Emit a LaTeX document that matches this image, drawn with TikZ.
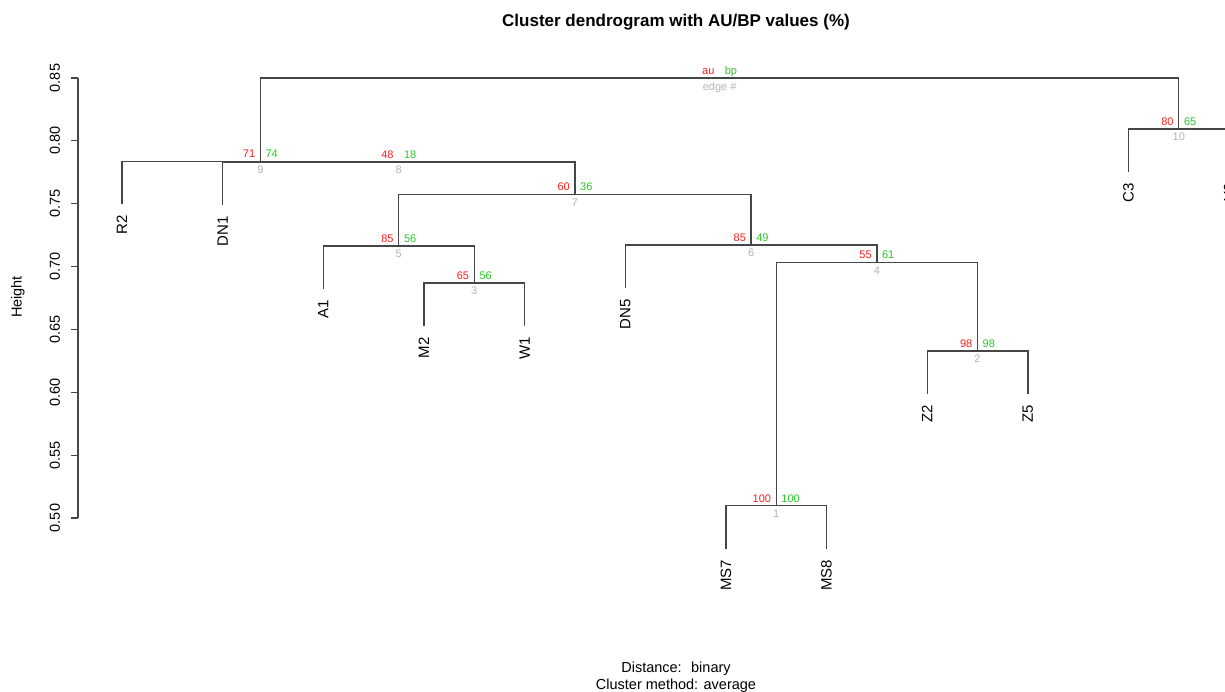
\documentclass[tikz,border=0pt]{standalone}
\usepackage{fontspec}
\setmainfont{Liberation Sans}
\usetikzlibrary{calc}
\definecolor{aured}{RGB}{255,30,30}
\definecolor{bpgreen}{RGB}{40,200,40}
\definecolor{edgegray}{RGB}{180,180,180}
\definecolor{treegray}{RGB}{70,70,70}

\begin{document}
\begin{tikzpicture}[x=1pt, y=-1pt,
    branch/.style={treegray, line width=1.3pt},
    leaflabel/.style={rotate=90, anchor=east, inner sep=0pt, font=\fontsize{15}{16}\selectfont},
    aulabel/.style={aured, anchor=base east, inner sep=0pt, font=\fontsize{11}{12}\selectfont},
    bplabel/.style={bpgreen, anchor=base west, inner sep=0pt, font=\fontsize{11}{12}\selectfont},
    edgelabel/.style={edgegray, anchor=north, inner sep=0pt, font=\fontsize{11}{12}\selectfont}]
        \useasboundingbox (0,0) rectangle (1225,692);
        % Merge points
        \foreach \n/\x/\y in {n1/776.2/505.5, n2/977.5/351, n3/474.3/283, n4/876.9/262.5,
            n5/398.8/246, n6/751.1/245, n7/575/194.5, n8/398.8/162, n9/260.4/161.3,
            n10/1178.8/129, n11/719.6/78}
          \coordinate (\n) at (\x,\y);
        % Leaves
        \foreach \lab/\y [count=\i] in {R2/204.3, DN1/205, A1/289, M2/326, W1/326, DN5/288,
            MS7/548.5, MS8/548.5, Z2/394, Z5/394, C3/172, Y9/172} {
          \coordinate (\lab) at ({122+100.65*(\i-1)},\y);
          \node[leaflabel] (lab\lab) at ([yshift=-11pt]\lab) {\lab};
        }
        % Branches
        \foreach \p/\a/\b in {n1/MS7/MS8, n2/Z2/Z5, n3/M2/W1, n4/n1/n2, n5/A1/n3, n6/DN5/n4,
            n7/n5/n6, n8/DN1/n7, n9/R2/n8, n10/C3/Y9, n11/n9/n10}
          \draw[branch] (\a) |- (\p) -| (\b);
        % AU/BP values
        \foreach \n/\au/\bp/\e in {n1/100/100/1, n2/98/98/2, n3/65/56/3, n4/55/61/4, n5/85/56/5,
            n6/85/49/6, n7/60/36/7, n8/48/18/8, n9/71/74/9, n10/80/65/10} {
          \node[aulabel] (au\e) at ([xshift=-5pt,yshift=3.5pt]\n) {\au};
          \node[bplabel] (bp\e) at ([xshift=5pt,yshift=3.5pt]\n) {\bp};
          \node[edgelabel] (edge\e) at ([yshift=-4pt]\n) {\e};
        }
        \node[aulabel] (auroot) at ([xshift=-5pt,yshift=3.5pt]n11) {au};
        \node[bplabel] (bproot) at ([xshift=5pt,yshift=3.5pt]n11) {bp};
        \node[edgelabel] (edgeroot) at ([yshift=-4pt]n11) {edge \#};
        % Axis
        \draw[treegray, line width=1.1pt] (78,78) -- (78,518);
        \foreach \h [count=\i from 0] in {0.85,0.80,0.75,0.70,0.65,0.60,0.55,0.50} {
          \draw[treegray, line width=1.1pt] (78,{78+62.857*\i}) -- (71,{78+62.857*\i});
          \node[rotate=90, inner sep=0pt, font=\fontsize{14.5}{16}\selectfont] (tick\i)
            at (55,{78+62.857*\i}) {\h};
        }
        % Titles
        \node[font=\fontsize{17}{20}\selectfont\bfseries] (title) at (676,22)
          {Cluster dendrogram with AU/BP values (\%)};
        \node[rotate=90, font=\fontsize{14.5}{16}\selectfont] (ylab) at (18,297) {Height};
        \node[align=center, font=\fontsize{14.5}{17}\selectfont] (sub) at (676,677)
          {Distance:~ binary\\Cluster method: average};
      \end{tikzpicture}
\end{document}
